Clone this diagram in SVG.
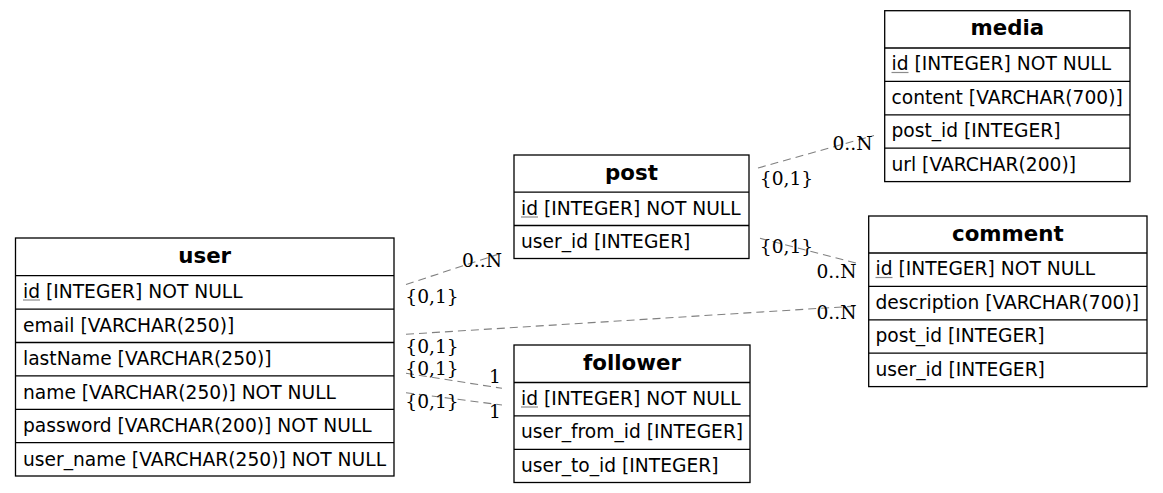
<svg xmlns="http://www.w3.org/2000/svg" width="1163" height="493" viewBox="0 0 1163 493">
  <style>
    .box { fill: #ffffff; stroke: #000000; stroke-width: 1.3; }
    .sep { stroke: #000000; stroke-width: 1.3; }
    .title { font-family: "DejaVu Sans", sans-serif; font-weight: bold; font-size: 21.33px; text-anchor: middle; fill: #000; }
    .field { font-family: "DejaVu Sans", sans-serif; font-size: 18.67px; fill: #000; }
    .pk { stroke: #8c8c8c; stroke-width: 1.2; }
    .edge { fill: none; stroke: #808080; stroke-width: 1.1; stroke-dasharray: 8 5; }
    .card { font-family: "DejaVu Serif", serif; font-size: 18.67px; text-anchor: middle; fill: #000; }
  </style>
  <rect width="1163" height="493" fill="#ffffff"/>

  <g id="connectors">
    <!-- user -> post -->
    <line class="edge" x1="406" y1="284.5" x2="502" y2="253"/>
    <text class="card" x="432" y="302.5">{0,1}</text>
    <text class="card" x="482" y="266.5">0..N</text>
    <!-- post -> media -->
    <line class="edge" x1="758" y1="168" x2="874" y2="135.5"/>
    <text class="card" x="786.5" y="185">{0,1}</text>
    <text class="card" x="852.5" y="150">0..N</text>
    <!-- post -> comment -->
    <line class="edge" x1="760" y1="238.3" x2="857" y2="263.3"/>
    <text class="card" x="786.5" y="253.3">{0,1}</text>
    <text class="card" x="836.5" y="277.7">0..N</text>
    <!-- user -> comment -->
    <line class="edge" x1="406" y1="334.3" x2="857" y2="306"/>
    <text class="card" x="432" y="352.5">{0,1}</text>
    <text class="card" x="836.5" y="319.3">0..N</text>
    <!-- user -> follower (from) -->
    <line class="edge" x1="406" y1="373.3" x2="502" y2="388.3"/>
    <text class="card" x="432" y="375">{0,1}</text>
    <text class="card" x="495" y="382.7">1</text>
    <!-- user -> follower (to) -->
    <line class="edge" x1="406" y1="392.7" x2="502" y2="405"/>
    <text class="card" x="432" y="408.3">{0,1}</text>
    <text class="card" x="495" y="418.3">1</text>
  </g>

  <g id="user">
    <rect class="box" x="15.5" y="238" width="378.5" height="238"/>
    <line class="sep" x1="15.5" y1="275.7" x2="394" y2="275.7"/>
    <line class="sep" x1="15.5" y1="309.1" x2="394" y2="309.1"/>
    <line class="sep" x1="15.5" y1="342.5" x2="394" y2="342.5"/>
    <line class="sep" x1="15.5" y1="375.9" x2="394" y2="375.9"/>
    <line class="sep" x1="15.5" y1="409.3" x2="394" y2="409.3"/>
    <line class="sep" x1="15.5" y1="442.7" x2="394" y2="442.7"/>
    <text class="title" x="204.7" y="262.5">user</text>
    <text class="field" x="23" y="297.5">id [INTEGER] NOT NULL</text>
    <line class="pk" x1="23" y1="300" x2="40" y2="300"/>
    <text class="field" x="23" y="331.5">email [VARCHAR(250)]</text>
    <text class="field" x="23" y="365">lastName [VARCHAR(250)]</text>
    <text class="field" x="23" y="398.5">name [VARCHAR(250)] NOT NULL</text>
    <text class="field" x="23" y="432">password [VARCHAR(200)] NOT NULL</text>
    <text class="field" x="23" y="465.5">user_name [VARCHAR(250)] NOT NULL</text>
  </g>

  <g id="post">
    <rect class="box" x="514" y="155" width="235" height="103.5"/>
    <line class="sep" x1="514" y1="192.2" x2="749" y2="192.2"/>
    <line class="sep" x1="514" y1="225.5" x2="749" y2="225.5"/>
    <text class="title" x="631.5" y="179.5">post</text>
    <text class="field" x="521" y="214.5">id [INTEGER] NOT NULL</text>
    <line class="pk" x1="521" y1="217" x2="538" y2="217"/>
    <text class="field" x="521" y="248">user_id [INTEGER]</text>
  </g>

  <g id="follower">
    <rect class="box" x="514" y="345" width="236" height="137.5"/>
    <line class="sep" x1="514" y1="382.5" x2="750" y2="382.5"/>
    <line class="sep" x1="514" y1="415.9" x2="750" y2="415.9"/>
    <line class="sep" x1="514" y1="449.3" x2="750" y2="449.3"/>
    <text class="title" x="632" y="369.5">follower</text>
    <text class="field" x="521" y="404.5">id [INTEGER] NOT NULL</text>
    <line class="pk" x1="521" y1="407" x2="538" y2="407"/>
    <text class="field" x="521" y="438">user_from_id [INTEGER]</text>
    <text class="field" x="521" y="471.5">user_to_id [INTEGER]</text>
  </g>

  <g id="media">
    <rect class="box" x="884.7" y="10.7" width="245.3" height="170.9"/>
    <line class="sep" x1="884.7" y1="48" x2="1130" y2="48"/>
    <line class="sep" x1="884.7" y1="81.4" x2="1130" y2="81.4"/>
    <line class="sep" x1="884.7" y1="114.8" x2="1130" y2="114.8"/>
    <line class="sep" x1="884.7" y1="148.2" x2="1130" y2="148.2"/>
    <text class="title" x="1007.3" y="35">media</text>
    <text class="field" x="891.5" y="70">id [INTEGER] NOT NULL</text>
    <line class="pk" x1="891.5" y1="72.5" x2="908.5" y2="72.5"/>
    <text class="field" x="891.5" y="103.5">content [VARCHAR(700)]</text>
    <text class="field" x="891.5" y="137">post_id [INTEGER]</text>
    <text class="field" x="891.5" y="170.5">url [VARCHAR(200)]</text>
  </g>

  <g id="comment">
    <rect class="box" x="868.7" y="216" width="278.3" height="170.6"/>
    <line class="sep" x1="868.7" y1="253" x2="1147" y2="253"/>
    <line class="sep" x1="868.7" y1="286.4" x2="1147" y2="286.4"/>
    <line class="sep" x1="868.7" y1="319.8" x2="1147" y2="319.8"/>
    <line class="sep" x1="868.7" y1="353.2" x2="1147" y2="353.2"/>
    <text class="title" x="1007.8" y="240.5">comment</text>
    <text class="field" x="875.5" y="275">id [INTEGER] NOT NULL</text>
    <line class="pk" x1="875.5" y1="277.5" x2="892.5" y2="277.5"/>
    <text class="field" x="875.5" y="308.5">description [VARCHAR(700)]</text>
    <text class="field" x="875.5" y="342">post_id [INTEGER]</text>
    <text class="field" x="875.5" y="375.5">user_id [INTEGER]</text>
  </g>
</svg>
